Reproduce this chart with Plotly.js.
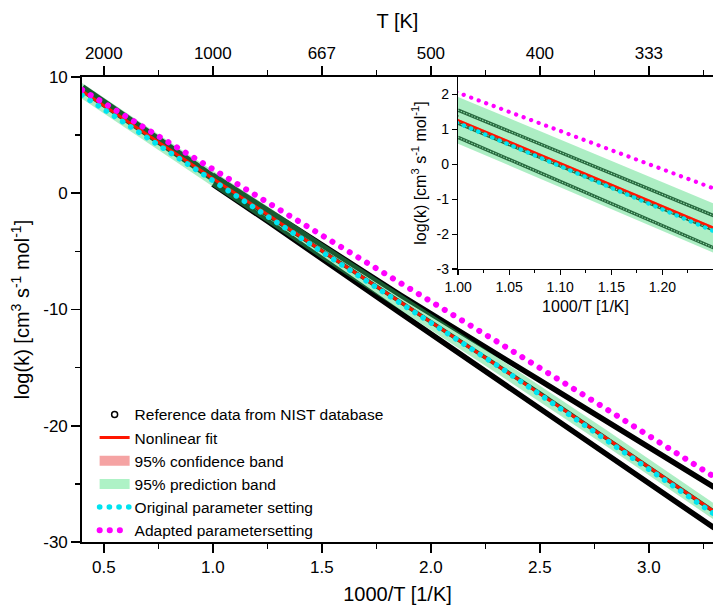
<!DOCTYPE html>
<html>
<head>
<meta charset="utf-8">
<script src="https://cdn.plot.ly/plotly-3.0.1.min.js"></script>
<style>
  html, body { margin: 0; padding: 0; background: #fff; }
  #chart { width: 713px; height: 610px; }
  g[class*="tracedot"] path.js-line { stroke-linecap: round !important; }
  .legend g.traces:nth-of-type(5) path.js-line,
  .legend g.traces:nth-of-type(6) path.js-line { stroke-linecap: round !important; }
</style>
</head>
<body>
<div id="chart"></div>
<script>
// ---- data ----
const FIT_X   = [0.4, 0.7, 1.0, 1.25, 1.5, 1.86, 2.32, 2.8, 3.3];
const FIT_Y   = [8.8, 5.0, 1.26, -1.82, -4.95, -9.35, -15.0, -21.0, -27.4];
const CONF_LO = [8.74, 4.95, 1.22, -1.86, -5.0, -9.4, -15.05, -21.06, -27.47];
const CONF_HI = [8.86, 5.05, 1.30, -1.78, -4.9, -9.3, -14.95, -20.94, -27.33];
const PRED_LO = [8.12, 4.32, 0.59, -2.52, -5.65, -10.05, -15.7, -21.7, -28.1];
const PRED_HI = [9.48, 5.68, 1.93, -1.12, -4.25, -8.65, -14.3, -20.3, -26.7];

const ORIG_Y  = [8.45, 4.75, 1.18, -1.9, -5.0, -9.45, -15.0, -21.1, -27.6];
const ADAPT_Y = [8.9, 5.5, 2.05, -0.69, -3.55, -7.74, -12.95, -18.5, -24.4];

const NIST_HT_X  = [0.4, 0.7, 1.0];
const NIST_HT_Y  = [9.05, 5.2, 1.35];
const NIST_X     = [1.0, 1.25, 1.86, 2.5, 3.3];
const NIST_UP_Y  = [1.55, -1.47, -8.75, -16.1, -25.3];
const NIST_MID_Y = [1.18, -1.88, -9.4, -17.2, -27.4];
const NIST_LO_Y  = [0.77, -2.39, -10.3, -18.55, -28.8];

const X_TICKS    = [0.5, 1.0, 1.5, 2.0, 2.5, 3.0];
const X_LABELS   = ['0.5', '1.0', '1.5', '2.0', '2.5', '3.0'];
const TOP_LABELS = ['2000', '1000', '667', '500', '400', '333'];
const X_MINOR    = [0.75, 1.25, 1.75, 2.25, 2.75, 3.25];
const Y_TICKS    = [-30, -20, -10, 0, 10];
const Y_LABELS   = ['-30', '-20', '-10', '0', '10'];
const Y_MINOR    = [-25, -15, -5, 5];
const IX_TICKS   = [1.0, 1.05, 1.1, 1.15, 1.2];
const IX_LABELS  = ['1.00', '1.05', '1.10', '1.15', '1.20'];
const IX_MINOR   = [1.025, 1.075, 1.125, 1.175, 1.225];
const IY_TICKS   = [-3, -2, -1, 0, 1, 2];
const IY_LABELS  = ['-3', '-2', '-1', '0', '1', '2'];

const LEGEND_NAMES = ['Reference data from NIST database', 'Nonlinear fit',
  '95% confidence band', '95% prediction band', 'Original parameter setting',
  'Adapted parametersetting'];

// ---- styles ----
const GREEN_FILL = 'rgba(60,215,115,0.42)';
const PINK_FILL = 'rgba(240,110,110,0.75)';
const RED = '#ff1500';
const CYAN = '#00e3f0';
const MAG = '#ff00ff';
const FONT = 'Liberation Sans, Arial, sans-serif';

function buildTraces(xa, ya, inset) {
  const t = [];
  const nistC = inset ? '#1a1a1a' : '#000';
  const nistSets = [[NIST_HT_X, NIST_HT_Y], [NIST_X, NIST_UP_Y], [NIST_X, NIST_MID_Y], [NIST_X, NIST_LO_Y]];
  const mainW = [8, 5.5, 4, 5.5];
  nistSets.forEach(function (s, i) {
    t.push({x: s[0], y: s[1], xaxis: xa, yaxis: ya, mode: 'lines', showlegend: false, hoverinfo: 'skip',
      line: {color: nistC, width: inset ? 3.4 : mainW[i]}});
    if (inset) {
      t.push({x: s[0], y: s[1], xaxis: xa, yaxis: ya, mode: 'lines', showlegend: false, hoverinfo: 'skip',
        line: {color: 'rgba(215,240,222,0.95)', width: 1.1, dash: '1.3px,1.6px'}});
    }
  });
  t.push({x: FIT_X, y: PRED_LO, xaxis: xa, yaxis: ya, mode: 'lines', line: {width: 0}, showlegend: false, hoverinfo: 'skip'});
  t.push({x: FIT_X, y: PRED_HI, xaxis: xa, yaxis: ya, mode: 'lines', line: {width: 0}, fill: 'tonexty',
    fillcolor: GREEN_FILL, showlegend: false, hoverinfo: 'skip'});
  t.push({x: FIT_X, y: CONF_LO, xaxis: xa, yaxis: ya, mode: 'lines', line: {width: 0}, showlegend: false, hoverinfo: 'skip'});
  t.push({x: FIT_X, y: CONF_HI, xaxis: xa, yaxis: ya, mode: 'lines', line: {width: 0}, fill: 'tonexty',
    fillcolor: PINK_FILL, showlegend: false, hoverinfo: 'skip'});
  t.push({x: FIT_X, y: FIT_Y, xaxis: xa, yaxis: ya, mode: 'lines', name: LEGEND_NAMES[1],
    showlegend: !inset, legendrank: 2, line: {color: RED, width: inset ? 2.4 : 3}});
  t.push({x: FIT_X, y: ORIG_Y, xaxis: xa, yaxis: ya, mode: 'lines', name: LEGEND_NAMES[4], uid: inset ? 'dotc2' : 'dotc',
    showlegend: !inset, legendrank: 5,
    line: {color: CYAN, width: inset ? 4.4 : 5.6, dash: inset ? '0.1px,7.6px' : '0.1px,9.6px'}});
  t.push({x: FIT_X, y: ADAPT_Y, xaxis: xa, yaxis: ya, mode: 'lines', name: LEGEND_NAMES[5], uid: inset ? 'dotm2' : 'dotm',
    showlegend: !inset, legendrank: 6,
    line: {color: MAG, width: inset ? 4.2 : 6, dash: inset ? '0.1px,7.9px' : '0.1px,10px'}});
  return t;
}

const traces = [].concat(buildTraces('x', 'y', false), buildTraces('x2', 'y2', true));
// legend-only entries
traces.push({x: [null], y: [null], xaxis: 'x', yaxis: 'y', mode: 'markers', name: LEGEND_NAMES[0], legendrank: 1,
  marker: {symbol: 'circle-open', size: 6, color: '#000', line: {width: 1.5}}});
traces.push({x: [null], y: [null], xaxis: 'x', yaxis: 'y', mode: 'lines', name: LEGEND_NAMES[2], legendrank: 3,
  line: {color: '#f5a3a3', width: 14}});
traces.push({x: [null], y: [null], xaxis: 'x', yaxis: 'y', mode: 'lines', name: LEGEND_NAMES[3], legendrank: 4,
  line: {color: '#aef2c6', width: 14}});
// carrier for the top temperature axis
traces.push({x: [null], y: [null], xaxis: 'x3', yaxis: 'y', mode: 'lines', showlegend: false, hoverinfo: 'skip'});

const mainAxis = {
  showline: true, linecolor: '#000', linewidth: 1.8, mirror: false,
  ticks: 'outside', ticklen: 9, tickwidth: 1.8, tickcolor: '#000',
  showgrid: false, zeroline: false, tickfont: {size: 17}, tickmode: 'array'
};
const mainMinor = {ticks: 'outside', ticklen: 5, tickwidth: 1.5, tickcolor: '#000', showgrid: false};
const insetAxis = {
  showline: true, linecolor: '#000', linewidth: 1.2, mirror: false,
  ticks: 'outside', ticklen: 5, tickwidth: 1.2, tickcolor: '#000',
  showgrid: false, zeroline: false, tickfont: {size: 14}, tickmode: 'array'
};

const layout = {
  width: 713, height: 610,
  margin: {l: 82, r: 0, t: 77, b: 68},
  paper_bgcolor: '#fff', plot_bgcolor: '#fff',
  font: {family: FONT, size: 16, color: '#000'},
  showlegend: true,
  legend: {x: 0.02, y: 0.31, xanchor: 'left', yanchor: 'top', bgcolor: 'rgba(0,0,0,0)',
    font: {size: 15.5, family: FONT}, tracegroupgap: 0, traceorder: 'normal'},
  xaxis: Object.assign({}, mainAxis, {
    domain: [0, 1], range: [0.4, 3.294], anchor: 'y',
    tickvals: X_TICKS, ticktext: X_LABELS,
    minor: Object.assign({tickvals: X_MINOR}, mainMinor),
    title: {text: '1000/T [1/K]', font: {size: 20}, standoff: 11}
  }),
  xaxis3: Object.assign({}, mainAxis, {
    overlaying: 'x', side: 'top', anchor: 'y', range: [0.4, 3.294],
    tickvals: X_TICKS, ticktext: TOP_LABELS,
    minor: Object.assign({tickvals: X_MINOR}, mainMinor),
    title: {text: 'T [K]', font: {size: 20}, standoff: 10}
  }),
  yaxis: Object.assign({}, mainAxis, {
    domain: [0, 1], range: [-30, 10], anchor: 'x',
    tickvals: Y_TICKS, ticktext: Y_LABELS,
    minor: Object.assign({tickvals: Y_MINOR}, mainMinor),
    title: {text: 'log(k) [cm<sup>3</sup> s<sup>-1</sup> mol<sup>-1</sup>]', font: {size: 20}, standoff: 8}
  }),
  xaxis2: Object.assign({}, insetAxis, {
    domain: [0.596, 1], range: [1.0, 1.2495], anchor: 'y2',
    tickvals: IX_TICKS, ticktext: IX_LABELS,
    minor: {tickvals: IX_MINOR, ticks: 'outside', ticklen: 3, tickwidth: 1, tickcolor: '#000', showgrid: false},
    title: {text: '1000/T [1/K]', font: {size: 16}, standoff: 6}
  }),
  yaxis2: Object.assign({}, insetAxis, {
    domain: [0.587, 1], range: [-3, 2.5], anchor: 'x2',
    tickvals: IY_TICKS, ticktext: IY_LABELS,
    title: {text: 'log(k) [cm<sup>3</sup> s<sup>-1</sup> mol<sup>-1</sup>]', font: {size: 16}, standoff: 6}
  })
};

Plotly.newPlot('chart', traces, layout, {displayModeBar: false, staticPlot: true});
</script>
</body>
</html>
